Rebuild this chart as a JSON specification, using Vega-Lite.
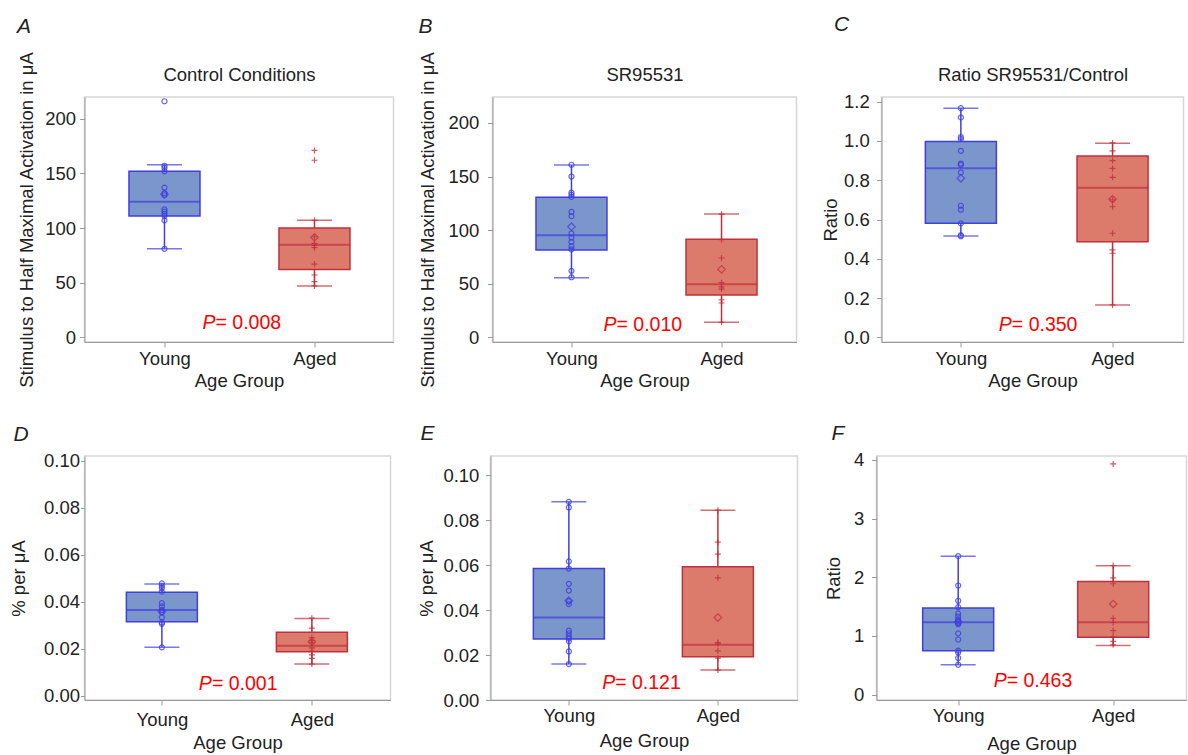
{
"$schema": "https://vega.github.io/schema/vega-lite/v6.json",
"padding": {"left": 8.5, "top": 13, "right": 0, "bottom": 0},
"background": "white",
"config": {
  "font": "Liberation Sans",
  "view": {"stroke": "#d6d6d6", "strokeWidth": 1.5},
  "axis": {"labelFont": "Liberation Sans", "labelFontSize": 18.5, "labelColor": "#222", "titleFont": "Liberation Sans", "titleFontSize": 18.5, "titleFontWeight": "normal", "titleColor": "#222", "domainColor": "#9a9a9a", "tickColor": "#9a9a9a", "tickSize": 5, "grid": false},
  "title": {"font": "Liberation Sans", "fontSize": 21, "fontStyle": "italic", "fontWeight": "normal", "color": "#222", "anchor": "start", "frame": "bounds"}
},
"datasets": {
  "pts": [
    {"panel":"A","group":"Young","value":216},{"panel":"A","group":"Young","value":157},{"panel":"A","group":"Young","value":155},{"panel":"A","group":"Young","value":152},{"panel":"A","group":"Young","value":137},{"panel":"A","group":"Young","value":132},{"panel":"A","group":"Young","value":130},{"panel":"A","group":"Young","value":117},{"panel":"A","group":"Young","value":115},{"panel":"A","group":"Young","value":113},{"panel":"A","group":"Young","value":111},{"panel":"A","group":"Young","value":107},{"panel":"A","group":"Young","value":81},
    {"panel":"A","group":"Aged","value":171},{"panel":"A","group":"Aged","value":162},{"panel":"A","group":"Aged","value":107},{"panel":"A","group":"Aged","value":92},{"panel":"A","group":"Aged","value":86},{"panel":"A","group":"Aged","value":84},{"panel":"A","group":"Aged","value":82},{"panel":"A","group":"Aged","value":67},{"panel":"A","group":"Aged","value":57},{"panel":"A","group":"Aged","value":51},{"panel":"A","group":"Aged","value":47},
    {"panel":"B","group":"Young","value":161},{"panel":"B","group":"Young","value":150},{"panel":"B","group":"Young","value":135},{"panel":"B","group":"Young","value":133},{"panel":"B","group":"Young","value":131},{"panel":"B","group":"Young","value":117},{"panel":"B","group":"Young","value":113},{"panel":"B","group":"Young","value":97},{"panel":"B","group":"Young","value":93},{"panel":"B","group":"Young","value":89},{"panel":"B","group":"Young","value":85},{"panel":"B","group":"Young","value":82},{"panel":"B","group":"Young","value":62},{"panel":"B","group":"Young","value":56},
    {"panel":"B","group":"Aged","value":115},{"panel":"B","group":"Aged","value":91},{"panel":"B","group":"Aged","value":74},{"panel":"B","group":"Aged","value":51},{"panel":"B","group":"Aged","value":47},{"panel":"B","group":"Aged","value":45},{"panel":"B","group":"Aged","value":35},{"panel":"B","group":"Aged","value":32},{"panel":"B","group":"Aged","value":14},
    {"panel":"C","group":"Young","value":1.167},{"panel":"C","group":"Young","value":1.12},{"panel":"C","group":"Young","value":1.02},{"panel":"C","group":"Young","value":1.01},{"panel":"C","group":"Young","value":0.95},{"panel":"C","group":"Young","value":0.885},{"panel":"C","group":"Young","value":0.878},{"panel":"C","group":"Young","value":0.84},{"panel":"C","group":"Young","value":0.67},{"panel":"C","group":"Young","value":0.65},{"panel":"C","group":"Young","value":0.58},{"panel":"C","group":"Young","value":0.52},{"panel":"C","group":"Young","value":0.515},
    {"panel":"C","group":"Aged","value":0.99},{"panel":"C","group":"Aged","value":0.95},{"panel":"C","group":"Aged","value":0.9},{"panel":"C","group":"Aged","value":0.86},{"panel":"C","group":"Aged","value":0.815},{"panel":"C","group":"Aged","value":0.7},{"panel":"C","group":"Aged","value":0.665},{"panel":"C","group":"Aged","value":0.53},{"panel":"C","group":"Aged","value":0.445},{"panel":"C","group":"Aged","value":0.428},{"panel":"C","group":"Aged","value":0.165},
    {"panel":"D","group":"Young","value":0.0478},{"panel":"D","group":"Young","value":0.0468},{"panel":"D","group":"Young","value":0.0458},{"panel":"D","group":"Young","value":0.0443},{"panel":"D","group":"Young","value":0.0394},{"panel":"D","group":"Young","value":0.038},{"panel":"D","group":"Young","value":0.0365},{"panel":"D","group":"Young","value":0.0355},{"panel":"D","group":"Young","value":0.0334},{"panel":"D","group":"Young","value":0.0312},{"panel":"D","group":"Young","value":0.0306},{"panel":"D","group":"Young","value":0.0206},
    {"panel":"D","group":"Aged","value":0.033},{"panel":"D","group":"Aged","value":0.0288},{"panel":"D","group":"Aged","value":0.0247},{"panel":"D","group":"Aged","value":0.0235},{"panel":"D","group":"Aged","value":0.0225},{"panel":"D","group":"Aged","value":0.0204},{"panel":"D","group":"Aged","value":0.019},{"panel":"D","group":"Aged","value":0.0174},{"panel":"D","group":"Aged","value":0.0159},{"panel":"D","group":"Aged","value":0.0135},
    {"panel":"E","group":"Young","value":0.0882},{"panel":"E","group":"Young","value":0.0857},{"panel":"E","group":"Young","value":0.0617},{"panel":"E","group":"Young","value":0.0585},{"panel":"E","group":"Young","value":0.0517},{"panel":"E","group":"Young","value":0.0487},{"panel":"E","group":"Young","value":0.044},{"panel":"E","group":"Young","value":0.0427},{"panel":"E","group":"Young","value":0.0309},{"panel":"E","group":"Young","value":0.0297},{"panel":"E","group":"Young","value":0.0284},{"panel":"E","group":"Young","value":0.0273},{"panel":"E","group":"Young","value":0.0261},{"panel":"E","group":"Young","value":0.0216},{"panel":"E","group":"Young","value":0.016},
    {"panel":"E","group":"Aged","value":0.0845},{"panel":"E","group":"Aged","value":0.0703},{"panel":"E","group":"Aged","value":0.0649},{"panel":"E","group":"Aged","value":0.0544},{"panel":"E","group":"Aged","value":0.0256},{"panel":"E","group":"Aged","value":0.025},{"panel":"E","group":"Aged","value":0.0219},{"panel":"E","group":"Aged","value":0.0186},{"panel":"E","group":"Aged","value":0.0133},
    {"panel":"F","group":"Young","value":2.36},{"panel":"F","group":"Young","value":1.86},{"panel":"F","group":"Young","value":1.6},{"panel":"F","group":"Young","value":1.49},{"panel":"F","group":"Young","value":1.38},{"panel":"F","group":"Young","value":1.33},{"panel":"F","group":"Young","value":1.28},{"panel":"F","group":"Young","value":1.25},{"panel":"F","group":"Young","value":1.22},{"panel":"F","group":"Young","value":1.2},{"panel":"F","group":"Young","value":1.045},{"panel":"F","group":"Young","value":0.94},{"panel":"F","group":"Young","value":0.75},{"panel":"F","group":"Young","value":0.72},{"panel":"F","group":"Young","value":0.625},{"panel":"F","group":"Young","value":0.51},
    {"panel":"F","group":"Aged","value":3.93},{"panel":"F","group":"Aged","value":2.2},{"panel":"F","group":"Aged","value":1.99},{"panel":"F","group":"Aged","value":1.89},{"panel":"F","group":"Aged","value":1.3},{"panel":"F","group":"Aged","value":1.23},{"panel":"F","group":"Aged","value":1.09},{"panel":"F","group":"Aged","value":0.99},{"panel":"F","group":"Aged","value":0.91},{"panel":"F","group":"Aged","value":0.85}
  ],
  "stats": [
    {"panel":"A","group":"Young","q1":111,"median":124,"q3":152,"lo":81,"hi":158,"mean":131},
    {"panel":"A","group":"Aged","q1":62,"median":84.7,"q3":100,"lo":47,"hi":107,"mean":91.5},
    {"panel":"B","group":"Young","q1":81.5,"median":95.2,"q3":130.6,"lo":55.6,"hi":160.8,"mean":103.2},
    {"panel":"B","group":"Aged","q1":39.5,"median":49.4,"q3":91.4,"lo":14,"hi":115,"mean":63.4},
    {"panel":"C","group":"Young","q1":0.581,"median":0.861,"q3":0.997,"lo":0.516,"hi":1.167,"mean":0.81},
    {"panel":"C","group":"Aged","q1":0.487,"median":0.762,"q3":0.924,"lo":0.165,"hi":0.988,"mean":0.703},
    {"panel":"D","group":"Young","q1":0.0315,"median":0.0365,"q3":0.044,"lo":0.0206,"hi":0.0475,"mean":0.0359},
    {"panel":"D","group":"Aged","q1":0.0187,"median":0.0213,"q3":0.027,"lo":0.0135,"hi":0.0329,"mean":0.023},
    {"panel":"E","group":"Young","q1":0.0271,"median":0.0367,"q3":0.0585,"lo":0.016,"hi":0.0882,"mean":0.0442},
    {"panel":"E","group":"Aged","q1":0.0193,"median":0.0246,"q3":0.0593,"lo":0.0133,"hi":0.0845,"mean":0.0367},
    {"panel":"F","group":"Young","q1":0.749,"median":1.232,"q3":1.476,"lo":0.51,"hi":2.356,"mean":1.24},
    {"panel":"F","group":"Aged","q1":0.977,"median":1.232,"q3":1.93,"lo":0.84,"hi":2.196,"mean":1.544}
  ],
  "ptext": [
    {"panel":"A","label":"= 0.008","py":13.4},
    {"panel":"B","label":"= 0.010","py":11.5},
    {"panel":"C","label":"= 0.350","py":0.063},
    {"panel":"D","label":"= 0.001","py":0.005},
    {"panel":"E","label":"= 0.121","py":0.0076},
    {"panel":"F","label":"= 0.463","py":0.228}
  ]
},
"vconcat": [
 {"spacing": 23, "hconcat": [
  {"width": 309, "height": 245,
   "title": {"text": "A", "offset": 14},
   "resolve": {"axis": {"x": "independent", "y": "independent"}},
   "layer": [
    {"data":{"name":"stats"},"transform":[{"filter":"datum.panel==='A'"}],"mark":{"type":"rule","strokeWidth":1.5},
     "encoding":{"x":{"field":"group","type":"nominal","scale":{"type":"point","domain":["Young","Aged"],"padding":0.53,"align":0.503},"axis":{"title":"Age Group","labelAngle":0,"labelPadding":2,"titlePadding":4}},
       "y":{"field":"lo","type":"quantitative","scale":{"domain":[-4.3,219.9],"nice":false,"zero":false},"axis":{"title":"Stimulus to Half Maximal Activation in μA","values":[0,50,100,150,200],"labelPadding":4,"titlePadding":8.6}},
       "y2":{"field":"hi"},
       "stroke":{"condition":{"test":"datum.group==='Young'","value":"#3f3fe0"},"value":"#c0303c"}}},
    {"data":{"name":"stats"},"transform":[{"filter":"datum.panel==='A'"}],"mark":{"type":"bar","size":71,"strokeWidth":1.5},
     "encoding":{"x":{"field":"group","type":"nominal","scale":{"type":"point","domain":["Young","Aged"],"padding":0.53,"align":0.503},"axis":null},
       "y":{"field":"q1","type":"quantitative","scale":{"domain":[-4.3,219.9],"nice":false,"zero":false},"axis":null},
       "y2":{"field":"q3"},
       "fill":{"condition":{"test":"datum.group==='Young'","value":"#7b96cb"},"value":"#dc7b6c"},
       "stroke":{"condition":{"test":"datum.group==='Young'","value":"#3f3fe0"},"value":"#c0303c"}}},
    {"data":{"name":"stats"},"transform":[{"filter":"datum.panel==='A'"}],"mark":{"type":"tick","orient":"horizontal","size":35,"thickness":1.5},
     "encoding":{"x":{"field":"group","type":"nominal","scale":{"type":"point","domain":["Young","Aged"],"padding":0.53,"align":0.503},"axis":null},
       "y":{"field":"lo","type":"quantitative","scale":{"domain":[-4.3,219.9],"nice":false,"zero":false},"axis":null},
       "color":{"condition":{"test":"datum.group==='Young'","value":"#3f3fe0"},"value":"#c0303c"}}},
    {"data":{"name":"stats"},"transform":[{"filter":"datum.panel==='A'"}],"mark":{"type":"tick","orient":"horizontal","size":35,"thickness":1.5},
     "encoding":{"x":{"field":"group","type":"nominal","scale":{"type":"point","domain":["Young","Aged"],"padding":0.53,"align":0.503},"axis":null},
       "y":{"field":"hi","type":"quantitative","scale":{"domain":[-4.3,219.9],"nice":false,"zero":false},"axis":null},
       "color":{"condition":{"test":"datum.group==='Young'","value":"#3f3fe0"},"value":"#c0303c"}}},
    {"data":{"name":"stats"},"transform":[{"filter":"datum.panel==='A'"}],"mark":{"type":"tick","orient":"horizontal","size":71,"thickness":2},
     "encoding":{"x":{"field":"group","type":"nominal","scale":{"type":"point","domain":["Young","Aged"],"padding":0.53,"align":0.503},"axis":null},
       "y":{"field":"median","type":"quantitative","scale":{"domain":[-4.3,219.9],"nice":false,"zero":false},"axis":null},
       "color":{"condition":{"test":"datum.group==='Young'","value":"#3f3fe0"},"value":"#c0303c"}}},
    {"data":{"name":"pts"},"transform":[{"filter":"datum.panel==='A'"}],"mark":{"type":"point","filled":false,"strokeWidth":1.2,"opacity":0.8},
     "encoding":{"x":{"field":"group","type":"nominal","scale":{"type":"point","domain":["Young","Aged"],"padding":0.53,"align":0.503},"axis":null},
       "y":{"field":"value","type":"quantitative","scale":{"domain":[-4.3,219.9],"nice":false,"zero":false},"axis":null},
       "shape":{"condition":{"test":"datum.group==='Young'","value":"circle"},"value":"M-1,0L1,0M0,-1L0,1"},
       "size":{"condition":{"test":"datum.group==='Young'","value":25},"value":36},
       "stroke":{"condition":{"test":"datum.group==='Young'","value":"#3f3fe0"},"value":"#c0303c"}}},
    {"data":{"name":"stats"},"transform":[{"filter":"datum.panel==='A'"}],"mark":{"type":"point","shape":"diamond","filled":false,"size":56,"strokeWidth":1.3},
     "encoding":{"x":{"field":"group","type":"nominal","scale":{"type":"point","domain":["Young","Aged"],"padding":0.53,"align":0.503},"axis":null},
       "y":{"field":"mean","type":"quantitative","scale":{"domain":[-4.3,219.9],"nice":false,"zero":false},"axis":null},
       "stroke":{"condition":{"test":"datum.group==='Young'","value":"#3f3fe0"},"value":"#c0303c"}}},
    {"data":{"name":"ptext"},"transform":[{"filter":"datum.panel==='A'"}],"mark":{"type":"text","text":"P","fontStyle":"italic","fontSize":19.5,"align":"right","baseline":"middle","dx":51,"color":"#ff0000"},
     "encoding":{"x":{"datum":"Young","type":"nominal","scale":{"type":"point","domain":["Young","Aged"],"padding":0.53,"align":0.503},"axis":null},
       "y":{"field":"py","type":"quantitative","scale":{"domain":[-4.3,219.9],"nice":false,"zero":false},"axis":null}}},
    {"data":{"name":"ptext"},"transform":[{"filter":"datum.panel==='A'"}],"mark":{"type":"text","fontSize":19.5,"align":"left","baseline":"middle","dx":51,"color":"#ff0000"},
     "encoding":{"x":{"datum":"Young","type":"nominal","scale":{"type":"point","domain":["Young","Aged"],"padding":0.53,"align":0.503},"axis":{"orient":"top","title":"Control Conditions","labels":false,"ticks":false,"domain":false,"labelPadding":0,"titlePadding":13}},
       "y":{"field":"py","type":"quantitative","scale":{"domain":[-4.3,219.9],"nice":false,"zero":false},"axis":null},
       "text":{"field":"label"}}}
   ]},
  {"width": 304, "height": 245,
   "title": {"text": "B", "offset": 14},
   "resolve": {"axis": {"x": "independent", "y": "independent"}},
   "layer": [
    {"data":{"name":"stats"},"transform":[{"filter":"datum.panel==='B'"}],"mark":{"type":"rule","strokeWidth":1.5},
     "encoding":{"x":{"field":"group","type":"nominal","scale":{"type":"point","domain":["Young","Aged"],"padding":0.513,"align":0.513},"axis":{"title":"Age Group","labelAngle":0,"labelPadding":2,"titlePadding":4}},
       "y":{"field":"lo","type":"quantitative","scale":{"domain":[-4.4,224.2],"nice":false,"zero":false},"axis":{"title":"Stimulus to Half Maximal Activation in μA","values":[0,50,100,150,200],"labelPadding":8.7,"titlePadding":10.4}},
       "y2":{"field":"hi"},
       "stroke":{"condition":{"test":"datum.group==='Young'","value":"#3f3fe0"},"value":"#c0303c"}}},
    {"data":{"name":"stats"},"transform":[{"filter":"datum.panel==='B'"}],"mark":{"type":"bar","size":71,"strokeWidth":1.5},
     "encoding":{"x":{"field":"group","type":"nominal","scale":{"type":"point","domain":["Young","Aged"],"padding":0.513,"align":0.513},"axis":null},
       "y":{"field":"q1","type":"quantitative","scale":{"domain":[-4.4,224.2],"nice":false,"zero":false},"axis":null},
       "y2":{"field":"q3"},
       "fill":{"condition":{"test":"datum.group==='Young'","value":"#7b96cb"},"value":"#dc7b6c"},
       "stroke":{"condition":{"test":"datum.group==='Young'","value":"#3f3fe0"},"value":"#c0303c"}}},
    {"data":{"name":"stats"},"transform":[{"filter":"datum.panel==='B'"}],"mark":{"type":"tick","orient":"horizontal","size":35,"thickness":1.5},
     "encoding":{"x":{"field":"group","type":"nominal","scale":{"type":"point","domain":["Young","Aged"],"padding":0.513,"align":0.513},"axis":null},
       "y":{"field":"lo","type":"quantitative","scale":{"domain":[-4.4,224.2],"nice":false,"zero":false},"axis":null},
       "color":{"condition":{"test":"datum.group==='Young'","value":"#3f3fe0"},"value":"#c0303c"}}},
    {"data":{"name":"stats"},"transform":[{"filter":"datum.panel==='B'"}],"mark":{"type":"tick","orient":"horizontal","size":35,"thickness":1.5},
     "encoding":{"x":{"field":"group","type":"nominal","scale":{"type":"point","domain":["Young","Aged"],"padding":0.513,"align":0.513},"axis":null},
       "y":{"field":"hi","type":"quantitative","scale":{"domain":[-4.4,224.2],"nice":false,"zero":false},"axis":null},
       "color":{"condition":{"test":"datum.group==='Young'","value":"#3f3fe0"},"value":"#c0303c"}}},
    {"data":{"name":"stats"},"transform":[{"filter":"datum.panel==='B'"}],"mark":{"type":"tick","orient":"horizontal","size":71,"thickness":2},
     "encoding":{"x":{"field":"group","type":"nominal","scale":{"type":"point","domain":["Young","Aged"],"padding":0.513,"align":0.513},"axis":null},
       "y":{"field":"median","type":"quantitative","scale":{"domain":[-4.4,224.2],"nice":false,"zero":false},"axis":null},
       "color":{"condition":{"test":"datum.group==='Young'","value":"#3f3fe0"},"value":"#c0303c"}}},
    {"data":{"name":"pts"},"transform":[{"filter":"datum.panel==='B'"}],"mark":{"type":"point","filled":false,"strokeWidth":1.2,"opacity":0.8},
     "encoding":{"x":{"field":"group","type":"nominal","scale":{"type":"point","domain":["Young","Aged"],"padding":0.513,"align":0.513},"axis":null},
       "y":{"field":"value","type":"quantitative","scale":{"domain":[-4.4,224.2],"nice":false,"zero":false},"axis":null},
       "shape":{"condition":{"test":"datum.group==='Young'","value":"circle"},"value":"M-1,0L1,0M0,-1L0,1"},
       "size":{"condition":{"test":"datum.group==='Young'","value":25},"value":36},
       "stroke":{"condition":{"test":"datum.group==='Young'","value":"#3f3fe0"},"value":"#c0303c"}}},
    {"data":{"name":"stats"},"transform":[{"filter":"datum.panel==='B'"}],"mark":{"type":"point","shape":"diamond","filled":false,"size":56,"strokeWidth":1.3},
     "encoding":{"x":{"field":"group","type":"nominal","scale":{"type":"point","domain":["Young","Aged"],"padding":0.513,"align":0.513},"axis":null},
       "y":{"field":"mean","type":"quantitative","scale":{"domain":[-4.4,224.2],"nice":false,"zero":false},"axis":null},
       "stroke":{"condition":{"test":"datum.group==='Young'","value":"#3f3fe0"},"value":"#c0303c"}}},
    {"data":{"name":"ptext"},"transform":[{"filter":"datum.panel==='B'"}],"mark":{"type":"text","text":"P","fontStyle":"italic","fontSize":19.5,"align":"right","baseline":"middle","dx":45,"color":"#ff0000"},
     "encoding":{"x":{"datum":"Young","type":"nominal","scale":{"type":"point","domain":["Young","Aged"],"padding":0.513,"align":0.513},"axis":null},
       "y":{"field":"py","type":"quantitative","scale":{"domain":[-4.4,224.2],"nice":false,"zero":false},"axis":null}}},
    {"data":{"name":"ptext"},"transform":[{"filter":"datum.panel==='B'"}],"mark":{"type":"text","fontSize":19.5,"align":"left","baseline":"middle","dx":45,"color":"#ff0000"},
     "encoding":{"x":{"datum":"Young","type":"nominal","scale":{"type":"point","domain":["Young","Aged"],"padding":0.513,"align":0.513},"axis":{"orient":"top","title":"SR95531","labels":false,"ticks":false,"domain":false,"labelPadding":0,"titlePadding":13}},
       "y":{"field":"py","type":"quantitative","scale":{"domain":[-4.4,224.2],"nice":false,"zero":false},"axis":null},
       "text":{"field":"label"}}}
   ]},
  {"width": 302, "height": 245,
   "title": {"text": "C", "offset": 30, "dx": 12},
   "resolve": {"axis": {"x": "independent", "y": "independent"}},
   "layer": [
    {"data":{"name":"stats"},"transform":[{"filter":"datum.panel==='C'"}],"mark":{"type":"rule","strokeWidth":1.5},
     "encoding":{"x":{"field":"group","type":"nominal","scale":{"type":"point","domain":["Young","Aged"],"padding":0.4954,"align":0.528},"axis":{"title":"Age Group","labelAngle":0,"labelPadding":2,"titlePadding":4}},
       "y":{"field":"lo","type":"quantitative","scale":{"domain":[-0.024,1.224],"nice":false,"zero":false},"axis":{"title":"Ratio","values":[0,0.2,0.4,0.6,0.8,1,1.2],"format":".1f","labelPadding":7.3,"titlePadding":2.5}},
       "y2":{"field":"hi"},
       "stroke":{"condition":{"test":"datum.group==='Young'","value":"#3f3fe0"},"value":"#c0303c"}}},
    {"data":{"name":"stats"},"transform":[{"filter":"datum.panel==='C'"}],"mark":{"type":"bar","size":71,"strokeWidth":1.5},
     "encoding":{"x":{"field":"group","type":"nominal","scale":{"type":"point","domain":["Young","Aged"],"padding":0.4954,"align":0.528},"axis":null},
       "y":{"field":"q1","type":"quantitative","scale":{"domain":[-0.024,1.224],"nice":false,"zero":false},"axis":null},
       "y2":{"field":"q3"},
       "fill":{"condition":{"test":"datum.group==='Young'","value":"#7b96cb"},"value":"#dc7b6c"},
       "stroke":{"condition":{"test":"datum.group==='Young'","value":"#3f3fe0"},"value":"#c0303c"}}},
    {"data":{"name":"stats"},"transform":[{"filter":"datum.panel==='C'"}],"mark":{"type":"tick","orient":"horizontal","size":35,"thickness":1.5},
     "encoding":{"x":{"field":"group","type":"nominal","scale":{"type":"point","domain":["Young","Aged"],"padding":0.4954,"align":0.528},"axis":null},
       "y":{"field":"lo","type":"quantitative","scale":{"domain":[-0.024,1.224],"nice":false,"zero":false},"axis":null},
       "color":{"condition":{"test":"datum.group==='Young'","value":"#3f3fe0"},"value":"#c0303c"}}},
    {"data":{"name":"stats"},"transform":[{"filter":"datum.panel==='C'"}],"mark":{"type":"tick","orient":"horizontal","size":35,"thickness":1.5},
     "encoding":{"x":{"field":"group","type":"nominal","scale":{"type":"point","domain":["Young","Aged"],"padding":0.4954,"align":0.528},"axis":null},
       "y":{"field":"hi","type":"quantitative","scale":{"domain":[-0.024,1.224],"nice":false,"zero":false},"axis":null},
       "color":{"condition":{"test":"datum.group==='Young'","value":"#3f3fe0"},"value":"#c0303c"}}},
    {"data":{"name":"stats"},"transform":[{"filter":"datum.panel==='C'"}],"mark":{"type":"tick","orient":"horizontal","size":71,"thickness":2},
     "encoding":{"x":{"field":"group","type":"nominal","scale":{"type":"point","domain":["Young","Aged"],"padding":0.4954,"align":0.528},"axis":null},
       "y":{"field":"median","type":"quantitative","scale":{"domain":[-0.024,1.224],"nice":false,"zero":false},"axis":null},
       "color":{"condition":{"test":"datum.group==='Young'","value":"#3f3fe0"},"value":"#c0303c"}}},
    {"data":{"name":"pts"},"transform":[{"filter":"datum.panel==='C'"}],"mark":{"type":"point","filled":false,"strokeWidth":1.2,"opacity":0.8},
     "encoding":{"x":{"field":"group","type":"nominal","scale":{"type":"point","domain":["Young","Aged"],"padding":0.4954,"align":0.528},"axis":null},
       "y":{"field":"value","type":"quantitative","scale":{"domain":[-0.024,1.224],"nice":false,"zero":false},"axis":null},
       "shape":{"condition":{"test":"datum.group==='Young'","value":"circle"},"value":"M-1,0L1,0M0,-1L0,1"},
       "size":{"condition":{"test":"datum.group==='Young'","value":25},"value":36},
       "stroke":{"condition":{"test":"datum.group==='Young'","value":"#3f3fe0"},"value":"#c0303c"}}},
    {"data":{"name":"stats"},"transform":[{"filter":"datum.panel==='C'"}],"mark":{"type":"point","shape":"diamond","filled":false,"size":56,"strokeWidth":1.3},
     "encoding":{"x":{"field":"group","type":"nominal","scale":{"type":"point","domain":["Young","Aged"],"padding":0.4954,"align":0.528},"axis":null},
       "y":{"field":"mean","type":"quantitative","scale":{"domain":[-0.024,1.224],"nice":false,"zero":false},"axis":null},
       "stroke":{"condition":{"test":"datum.group==='Young'","value":"#3f3fe0"},"value":"#c0303c"}}},
    {"data":{"name":"ptext"},"transform":[{"filter":"datum.panel==='C'"}],"mark":{"type":"text","text":"P","fontStyle":"italic","fontSize":19.5,"align":"right","baseline":"middle","dx":51,"color":"#ff0000"},
     "encoding":{"x":{"datum":"Young","type":"nominal","scale":{"type":"point","domain":["Young","Aged"],"padding":0.4954,"align":0.528},"axis":null},
       "y":{"field":"py","type":"quantitative","scale":{"domain":[-0.024,1.224],"nice":false,"zero":false},"axis":null}}},
    {"data":{"name":"ptext"},"transform":[{"filter":"datum.panel==='C'"}],"mark":{"type":"text","fontSize":19.5,"align":"left","baseline":"middle","dx":51,"color":"#ff0000"},
     "encoding":{"x":{"datum":"Young","type":"nominal","scale":{"type":"point","domain":["Young","Aged"],"padding":0.4954,"align":0.528},"axis":{"orient":"top","title":"Ratio SR95531/Control","labels":false,"ticks":false,"domain":false,"labelPadding":0,"titlePadding":13}},
       "y":{"field":"py","type":"quantitative","scale":{"domain":[-0.024,1.224],"nice":false,"zero":false},"axis":null},
       "text":{"field":"label"}}}
   ]}
 ]},
 {"spacing": 25, "hconcat": [
  {"width": 306, "height": 244,
   "title": {"text": "D", "offset": 7, "dx": 4},
   "resolve": {"axis": {"x": "independent", "y": "independent"}},
   "layer": [
    {"data":{"name":"stats"},"transform":[{"filter":"datum.panel==='D'"}],"mark":{"type":"rule","strokeWidth":1.5},
     "encoding":{"x":{"field":"group","type":"nominal","scale":{"type":"point","domain":["Young","Aged"],"padding":0.52,"align":0.496},"axis":{"title":"Age Group","labelAngle":0,"labelPadding":5,"titlePadding":5}},
       "y":{"field":"lo","type":"quantitative","scale":{"domain":[-0.0018,0.102],"nice":false,"zero":false},"axis":{"title":"% per μA","values":[0,0.02,0.04,0.06,0.08,0.1],"format":".2f","tickSize":4,"labelPadding":1,"titlePadding":15}},
       "y2":{"field":"hi"},
       "stroke":{"condition":{"test":"datum.group==='Young'","value":"#3f3fe0"},"value":"#c0303c"}}},
    {"data":{"name":"stats"},"transform":[{"filter":"datum.panel==='D'"}],"mark":{"type":"bar","size":71,"strokeWidth":1.5},
     "encoding":{"x":{"field":"group","type":"nominal","scale":{"type":"point","domain":["Young","Aged"],"padding":0.52,"align":0.496},"axis":null},
       "y":{"field":"q1","type":"quantitative","scale":{"domain":[-0.0018,0.102],"nice":false,"zero":false},"axis":null},
       "y2":{"field":"q3"},
       "fill":{"condition":{"test":"datum.group==='Young'","value":"#7b96cb"},"value":"#dc7b6c"},
       "stroke":{"condition":{"test":"datum.group==='Young'","value":"#3f3fe0"},"value":"#c0303c"}}},
    {"data":{"name":"stats"},"transform":[{"filter":"datum.panel==='D'"}],"mark":{"type":"tick","orient":"horizontal","size":35,"thickness":1.5},
     "encoding":{"x":{"field":"group","type":"nominal","scale":{"type":"point","domain":["Young","Aged"],"padding":0.52,"align":0.496},"axis":null},
       "y":{"field":"lo","type":"quantitative","scale":{"domain":[-0.0018,0.102],"nice":false,"zero":false},"axis":null},
       "color":{"condition":{"test":"datum.group==='Young'","value":"#3f3fe0"},"value":"#c0303c"}}},
    {"data":{"name":"stats"},"transform":[{"filter":"datum.panel==='D'"}],"mark":{"type":"tick","orient":"horizontal","size":35,"thickness":1.5},
     "encoding":{"x":{"field":"group","type":"nominal","scale":{"type":"point","domain":["Young","Aged"],"padding":0.52,"align":0.496},"axis":null},
       "y":{"field":"hi","type":"quantitative","scale":{"domain":[-0.0018,0.102],"nice":false,"zero":false},"axis":null},
       "color":{"condition":{"test":"datum.group==='Young'","value":"#3f3fe0"},"value":"#c0303c"}}},
    {"data":{"name":"stats"},"transform":[{"filter":"datum.panel==='D'"}],"mark":{"type":"tick","orient":"horizontal","size":71,"thickness":2},
     "encoding":{"x":{"field":"group","type":"nominal","scale":{"type":"point","domain":["Young","Aged"],"padding":0.52,"align":0.496},"axis":null},
       "y":{"field":"median","type":"quantitative","scale":{"domain":[-0.0018,0.102],"nice":false,"zero":false},"axis":null},
       "color":{"condition":{"test":"datum.group==='Young'","value":"#3f3fe0"},"value":"#c0303c"}}},
    {"data":{"name":"pts"},"transform":[{"filter":"datum.panel==='D'"}],"mark":{"type":"point","filled":false,"strokeWidth":1.2,"opacity":0.8},
     "encoding":{"x":{"field":"group","type":"nominal","scale":{"type":"point","domain":["Young","Aged"],"padding":0.52,"align":0.496},"axis":null},
       "y":{"field":"value","type":"quantitative","scale":{"domain":[-0.0018,0.102],"nice":false,"zero":false},"axis":null},
       "shape":{"condition":{"test":"datum.group==='Young'","value":"circle"},"value":"M-1,0L1,0M0,-1L0,1"},
       "size":{"condition":{"test":"datum.group==='Young'","value":25},"value":36},
       "stroke":{"condition":{"test":"datum.group==='Young'","value":"#3f3fe0"},"value":"#c0303c"}}},
    {"data":{"name":"stats"},"transform":[{"filter":"datum.panel==='D'"}],"mark":{"type":"point","shape":"diamond","filled":false,"size":56,"strokeWidth":1.3},
     "encoding":{"x":{"field":"group","type":"nominal","scale":{"type":"point","domain":["Young","Aged"],"padding":0.52,"align":0.496},"axis":null},
       "y":{"field":"mean","type":"quantitative","scale":{"domain":[-0.0018,0.102],"nice":false,"zero":false},"axis":null},
       "stroke":{"condition":{"test":"datum.group==='Young'","value":"#3f3fe0"},"value":"#c0303c"}}},
    {"data":{"name":"ptext"},"transform":[{"filter":"datum.panel==='D'"}],"mark":{"type":"text","text":"P","fontStyle":"italic","fontSize":19.5,"align":"right","baseline":"middle","dx":50,"color":"#ff0000"},
     "encoding":{"x":{"datum":"Young","type":"nominal","scale":{"type":"point","domain":["Young","Aged"],"padding":0.52,"align":0.496},"axis":null},
       "y":{"field":"py","type":"quantitative","scale":{"domain":[-0.0018,0.102],"nice":false,"zero":false},"axis":null}}},
    {"data":{"name":"ptext"},"transform":[{"filter":"datum.panel==='D'"}],"mark":{"type":"text","fontSize":19.5,"align":"left","baseline":"middle","dx":50,"color":"#ff0000"},
     "encoding":{"x":{"datum":"Young","type":"nominal","scale":{"type":"point","domain":["Young","Aged"],"padding":0.52,"align":0.496},"axis":null},
       "y":{"field":"py","type":"quantitative","scale":{"domain":[-0.0018,0.102],"nice":false,"zero":false},"axis":null},
       "text":{"field":"label"}}}
   ]},
  {"width": 307, "height": 244,
   "title": {"text": "E", "offset": 12, "dx": 3},
   "resolve": {"axis": {"x": "independent", "y": "independent"}},
   "layer": [
    {"data":{"name":"stats"},"transform":[{"filter":"datum.panel==='E'"}],"mark":{"type":"rule","strokeWidth":1.5},
     "encoding":{"x":{"field":"group","type":"nominal","scale":{"type":"point","domain":["Young","Aged"],"padding":0.53,"align":0.496},"axis":{"title":"Age Group","labelAngle":0,"labelPadding":1,"titlePadding":7}},
       "y":{"field":"lo","type":"quantitative","scale":{"domain":[0,0.1086],"nice":false,"zero":false},"axis":{"title":"% per μA","values":[0,0.02,0.04,0.06,0.08,0.1],"format":".2f","labelPadding":6.6,"titlePadding":6.4}},
       "y2":{"field":"hi"},
       "stroke":{"condition":{"test":"datum.group==='Young'","value":"#3f3fe0"},"value":"#c0303c"}}},
    {"data":{"name":"stats"},"transform":[{"filter":"datum.panel==='E'"}],"mark":{"type":"bar","size":71,"strokeWidth":1.5},
     "encoding":{"x":{"field":"group","type":"nominal","scale":{"type":"point","domain":["Young","Aged"],"padding":0.53,"align":0.496},"axis":null},
       "y":{"field":"q1","type":"quantitative","scale":{"domain":[0,0.1086],"nice":false,"zero":false},"axis":null},
       "y2":{"field":"q3"},
       "fill":{"condition":{"test":"datum.group==='Young'","value":"#7b96cb"},"value":"#dc7b6c"},
       "stroke":{"condition":{"test":"datum.group==='Young'","value":"#3f3fe0"},"value":"#c0303c"}}},
    {"data":{"name":"stats"},"transform":[{"filter":"datum.panel==='E'"}],"mark":{"type":"tick","orient":"horizontal","size":35,"thickness":1.5},
     "encoding":{"x":{"field":"group","type":"nominal","scale":{"type":"point","domain":["Young","Aged"],"padding":0.53,"align":0.496},"axis":null},
       "y":{"field":"lo","type":"quantitative","scale":{"domain":[0,0.1086],"nice":false,"zero":false},"axis":null},
       "color":{"condition":{"test":"datum.group==='Young'","value":"#3f3fe0"},"value":"#c0303c"}}},
    {"data":{"name":"stats"},"transform":[{"filter":"datum.panel==='E'"}],"mark":{"type":"tick","orient":"horizontal","size":35,"thickness":1.5},
     "encoding":{"x":{"field":"group","type":"nominal","scale":{"type":"point","domain":["Young","Aged"],"padding":0.53,"align":0.496},"axis":null},
       "y":{"field":"hi","type":"quantitative","scale":{"domain":[0,0.1086],"nice":false,"zero":false},"axis":null},
       "color":{"condition":{"test":"datum.group==='Young'","value":"#3f3fe0"},"value":"#c0303c"}}},
    {"data":{"name":"stats"},"transform":[{"filter":"datum.panel==='E'"}],"mark":{"type":"tick","orient":"horizontal","size":71,"thickness":2},
     "encoding":{"x":{"field":"group","type":"nominal","scale":{"type":"point","domain":["Young","Aged"],"padding":0.53,"align":0.496},"axis":null},
       "y":{"field":"median","type":"quantitative","scale":{"domain":[0,0.1086],"nice":false,"zero":false},"axis":null},
       "color":{"condition":{"test":"datum.group==='Young'","value":"#3f3fe0"},"value":"#c0303c"}}},
    {"data":{"name":"pts"},"transform":[{"filter":"datum.panel==='E'"}],"mark":{"type":"point","filled":false,"strokeWidth":1.2,"opacity":0.8},
     "encoding":{"x":{"field":"group","type":"nominal","scale":{"type":"point","domain":["Young","Aged"],"padding":0.53,"align":0.496},"axis":null},
       "y":{"field":"value","type":"quantitative","scale":{"domain":[0,0.1086],"nice":false,"zero":false},"axis":null},
       "shape":{"condition":{"test":"datum.group==='Young'","value":"circle"},"value":"M-1,0L1,0M0,-1L0,1"},
       "size":{"condition":{"test":"datum.group==='Young'","value":25},"value":36},
       "stroke":{"condition":{"test":"datum.group==='Young'","value":"#3f3fe0"},"value":"#c0303c"}}},
    {"data":{"name":"stats"},"transform":[{"filter":"datum.panel==='E'"}],"mark":{"type":"point","shape":"diamond","filled":false,"size":56,"strokeWidth":1.3},
     "encoding":{"x":{"field":"group","type":"nominal","scale":{"type":"point","domain":["Young","Aged"],"padding":0.53,"align":0.496},"axis":null},
       "y":{"field":"mean","type":"quantitative","scale":{"domain":[0,0.1086],"nice":false,"zero":false},"axis":null},
       "stroke":{"condition":{"test":"datum.group==='Young'","value":"#3f3fe0"},"value":"#c0303c"}}},
    {"data":{"name":"ptext"},"transform":[{"filter":"datum.panel==='E'"}],"mark":{"type":"text","text":"P","fontStyle":"italic","fontSize":19.5,"align":"right","baseline":"middle","dx":46.3,"color":"#ff0000"},
     "encoding":{"x":{"datum":"Young","type":"nominal","scale":{"type":"point","domain":["Young","Aged"],"padding":0.53,"align":0.496},"axis":null},
       "y":{"field":"py","type":"quantitative","scale":{"domain":[0,0.1086],"nice":false,"zero":false},"axis":null}}},
    {"data":{"name":"ptext"},"transform":[{"filter":"datum.panel==='E'"}],"mark":{"type":"text","fontSize":19.5,"align":"left","baseline":"middle","dx":46.3,"color":"#ff0000"},
     "encoding":{"x":{"datum":"Young","type":"nominal","scale":{"type":"point","domain":["Young","Aged"],"padding":0.53,"align":0.496},"axis":null},
       "y":{"field":"py","type":"quantitative","scale":{"domain":[0,0.1086],"nice":false,"zero":false},"axis":null},
       "text":{"field":"label"}}}
   ]},
  {"width": 310, "height": 244,
   "title": {"text": "F", "offset": 7, "dx": 7},
   "resolve": {"axis": {"x": "independent", "y": "independent"}},
   "layer": [
    {"data":{"name":"stats"},"transform":[{"filter":"datum.panel==='F'"}],"mark":{"type":"rule","strokeWidth":1.5},
     "encoding":{"x":{"field":"group","type":"nominal","scale":{"type":"point","domain":["Young","Aged"],"padding":0.5,"align":0.527},"axis":{"title":"Age Group","labelAngle":0,"labelPadding":1,"titlePadding":10}},
       "y":{"field":"lo","type":"quantitative","scale":{"domain":[-0.09,4.065],"nice":false,"zero":false},"axis":{"title":"Ratio","values":[0,1,2,3,4],"labelPadding":7.7,"titlePadding":10}},
       "y2":{"field":"hi"},
       "stroke":{"condition":{"test":"datum.group==='Young'","value":"#3f3fe0"},"value":"#c0303c"}}},
    {"data":{"name":"stats"},"transform":[{"filter":"datum.panel==='F'"}],"mark":{"type":"bar","size":71,"strokeWidth":1.5},
     "encoding":{"x":{"field":"group","type":"nominal","scale":{"type":"point","domain":["Young","Aged"],"padding":0.5,"align":0.527},"axis":null},
       "y":{"field":"q1","type":"quantitative","scale":{"domain":[-0.09,4.065],"nice":false,"zero":false},"axis":null},
       "y2":{"field":"q3"},
       "fill":{"condition":{"test":"datum.group==='Young'","value":"#7b96cb"},"value":"#dc7b6c"},
       "stroke":{"condition":{"test":"datum.group==='Young'","value":"#3f3fe0"},"value":"#c0303c"}}},
    {"data":{"name":"stats"},"transform":[{"filter":"datum.panel==='F'"}],"mark":{"type":"tick","orient":"horizontal","size":35,"thickness":1.5},
     "encoding":{"x":{"field":"group","type":"nominal","scale":{"type":"point","domain":["Young","Aged"],"padding":0.5,"align":0.527},"axis":null},
       "y":{"field":"lo","type":"quantitative","scale":{"domain":[-0.09,4.065],"nice":false,"zero":false},"axis":null},
       "color":{"condition":{"test":"datum.group==='Young'","value":"#3f3fe0"},"value":"#c0303c"}}},
    {"data":{"name":"stats"},"transform":[{"filter":"datum.panel==='F'"}],"mark":{"type":"tick","orient":"horizontal","size":35,"thickness":1.5},
     "encoding":{"x":{"field":"group","type":"nominal","scale":{"type":"point","domain":["Young","Aged"],"padding":0.5,"align":0.527},"axis":null},
       "y":{"field":"hi","type":"quantitative","scale":{"domain":[-0.09,4.065],"nice":false,"zero":false},"axis":null},
       "color":{"condition":{"test":"datum.group==='Young'","value":"#3f3fe0"},"value":"#c0303c"}}},
    {"data":{"name":"stats"},"transform":[{"filter":"datum.panel==='F'"}],"mark":{"type":"tick","orient":"horizontal","size":71,"thickness":2},
     "encoding":{"x":{"field":"group","type":"nominal","scale":{"type":"point","domain":["Young","Aged"],"padding":0.5,"align":0.527},"axis":null},
       "y":{"field":"median","type":"quantitative","scale":{"domain":[-0.09,4.065],"nice":false,"zero":false},"axis":null},
       "color":{"condition":{"test":"datum.group==='Young'","value":"#3f3fe0"},"value":"#c0303c"}}},
    {"data":{"name":"pts"},"transform":[{"filter":"datum.panel==='F'"}],"mark":{"type":"point","filled":false,"strokeWidth":1.2,"opacity":0.8},
     "encoding":{"x":{"field":"group","type":"nominal","scale":{"type":"point","domain":["Young","Aged"],"padding":0.5,"align":0.527},"axis":null},
       "y":{"field":"value","type":"quantitative","scale":{"domain":[-0.09,4.065],"nice":false,"zero":false},"axis":null},
       "shape":{"condition":{"test":"datum.group==='Young'","value":"circle"},"value":"M-1,0L1,0M0,-1L0,1"},
       "size":{"condition":{"test":"datum.group==='Young'","value":25},"value":36},
       "stroke":{"condition":{"test":"datum.group==='Young'","value":"#3f3fe0"},"value":"#c0303c"}}},
    {"data":{"name":"stats"},"transform":[{"filter":"datum.panel==='F'"}],"mark":{"type":"point","shape":"diamond","filled":false,"size":56,"strokeWidth":1.3},
     "encoding":{"x":{"field":"group","type":"nominal","scale":{"type":"point","domain":["Young","Aged"],"padding":0.5,"align":0.527},"axis":null},
       "y":{"field":"mean","type":"quantitative","scale":{"domain":[-0.09,4.065],"nice":false,"zero":false},"axis":null},
       "stroke":{"condition":{"test":"datum.group==='Young'","value":"#3f3fe0"},"value":"#c0303c"}}},
    {"data":{"name":"ptext"},"transform":[{"filter":"datum.panel==='F'"}],"mark":{"type":"text","text":"P","fontStyle":"italic","fontSize":19.5,"align":"right","baseline":"middle","dx":48.5,"color":"#ff0000"},
     "encoding":{"x":{"datum":"Young","type":"nominal","scale":{"type":"point","domain":["Young","Aged"],"padding":0.5,"align":0.527},"axis":null},
       "y":{"field":"py","type":"quantitative","scale":{"domain":[-0.09,4.065],"nice":false,"zero":false},"axis":null}}},
    {"data":{"name":"ptext"},"transform":[{"filter":"datum.panel==='F'"}],"mark":{"type":"text","fontSize":19.5,"align":"left","baseline":"middle","dx":48.5,"color":"#ff0000"},
     "encoding":{"x":{"datum":"Young","type":"nominal","scale":{"type":"point","domain":["Young","Aged"],"padding":0.5,"align":0.527},"axis":null},
       "y":{"field":"py","type":"quantitative","scale":{"domain":[-0.09,4.065],"nice":false,"zero":false},"axis":null},
       "text":{"field":"label"}}}
   ]}
 ]}
],
"spacing": 31
}
